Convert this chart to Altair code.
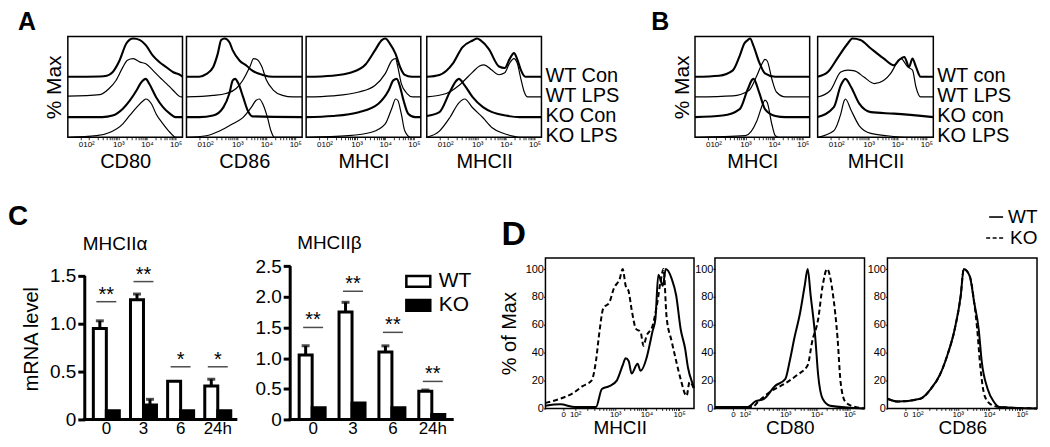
import math
import altair as alt
import pandas as pd

FONT = "Liberation Sans"

# ---------------- Panel A / B : stacked histograms ----------------
ROWS_A = ["WT Con", "WT LPS", "KO Con", "KO LPS"]
ROWS_B = ["WT con", "WT LPS", "KO con", "KO LPS"]
TICK_LABELS = ["0", "10²", "10³", "10⁴", "10⁵"]

# (x position in % of axis, height in % of max)
A_CD80 = {
    "WT Con": ([0, 28, 34, 39, 45, 51, 54, 57, 63, 68, 74, 80, 86, 92, 99, 100],
               [0, 1, 3, 12, 42, 87, 97, 100, 96, 83, 56, 38, 25, 12, 3, 0]),
    "WT LPS": ([0, 28, 36, 42, 48, 52, 57, 63, 68, 74, 80, 86, 92, 99, 100],
               [2, 6, 22, 43, 78, 96, 100, 91, 87, 70, 52, 35, 17, 0, 0]),
    "KO Con": ([0, 30, 39, 48, 54, 60, 64, 68, 71, 77, 83, 89, 94, 100],
               [0, 0, 4, 22, 43, 70, 91, 100, 87, 52, 26, 9, 0, 0]),
    "KO LPS": ([0, 25, 37, 48, 54, 60, 66, 68, 73, 77, 83, 89, 94, 100],
               [0, 4, 13, 35, 57, 78, 96, 100, 87, 61, 35, 13, 0, 0]),
}
A_CD86 = {
    "WT Con": ([0, 11, 17, 23, 27, 30, 33, 37, 40, 46, 52, 57, 66, 75, 100],
               [0, 0, 7, 25, 60, 96, 100, 91, 69, 42, 29, 16, 5, 0, 0]),
    "WT LPS": ([0, 23, 34, 43, 49, 55, 58, 61, 65, 69, 75, 83, 92, 100],
               [0, 4, 9, 22, 45, 80, 100, 98, 80, 45, 18, 4, 0, 0]),
    "KO Con": ([0, 11, 23, 32, 37, 40, 42, 45, 49, 53, 57, 100],
               [0, 0, 4, 26, 61, 96, 100, 87, 52, 17, 2, 0]),
    "KO LPS": ([0, 17, 29, 40, 49, 56, 60, 63, 66, 70, 73, 76, 100],
               [0, 4, 17, 35, 52, 78, 96, 100, 87, 52, 17, 0, 0]),
}
A_MHCI = {
    "WT Con": ([0, 23, 40, 52, 60, 66, 69, 73, 78, 82, 86, 92, 100],
               [0, 3, 12, 33, 69, 96, 100, 87, 60, 25, 5, 0, 0]),
    "WT LPS": ([0, 23, 46, 60, 69, 75, 78, 80, 83, 88, 93, 100],
               [0, 3, 13, 30, 61, 96, 100, 78, 35, 9, 0, 0]),
    "KO Con": ([0, 23, 46, 63, 72, 76, 79, 82, 85, 89, 95, 100],
               [0, 3, 13, 35, 70, 96, 100, 78, 43, 9, 0, 0]),
    "KO LPS": ([0, 37, 57, 69, 75, 78, 80, 83, 86, 91, 100],
               [0, 4, 13, 35, 78, 100, 96, 61, 17, 0, 0]),
}
A_MHCII = {
    "WT Con": ([0, 11, 23, 31, 40, 44, 47, 54, 63, 68, 72, 76, 79, 82, 86, 100],
               [0, 5, 36, 77, 95, 100, 95, 73, 27, 23, 45, 62, 45, 18, 0, 0]),
    "WT LPS": ([0, 17, 28, 40, 46, 50, 56, 63, 68, 72, 76, 79, 82, 85, 88, 100],
               [0, 9, 30, 65, 81, 84, 72, 58, 63, 87, 100, 87, 48, 13, 0, 0]),
    "KO Con": ([0, 11, 20, 26, 28, 33, 40, 49, 57, 69, 81, 100],
               [3, 13, 65, 96, 100, 83, 52, 26, 13, 4, 0, 0]),
    "KO LPS": ([0, 11, 20, 28, 33, 40, 49, 57, 66, 75, 81, 100],
               [0, 16, 51, 90, 100, 77, 51, 25, 11, 3, 0, 0]),
}
B_MHCI = {
    "WT con": ([0, 21, 33, 39, 43, 46, 48, 51, 56, 61, 70, 100],
               [0, 3, 17, 55, 87, 96, 100, 81, 38, 9, 0, 0]),
    "WT LPS": ([0, 33, 47, 54, 59, 61, 63, 67, 71, 79, 100],
               [0, 3, 17, 56, 90, 98, 94, 47, 13, 0, 0]),
    "KO con": ([0, 24, 39, 46, 50, 51, 56, 61, 70, 79, 100],
               [0, 4, 21, 73, 98, 100, 64, 21, 3, 0, 0]),
    "KO LPS": ([0, 44, 54, 59, 61, 63, 67, 70, 73, 100],
               [0, 4, 43, 86, 97, 91, 34, 4, 0, 0]),
}
B_MHCII = {
    "WT con": ([0, 9, 17, 26, 30, 37, 46, 57, 66, 70, 75, 79, 82, 85, 89, 100],
               [0, 13, 48, 87, 100, 96, 74, 48, 30, 43, 52, 26, 48, 26, 0, 0]),
    "WT LPS": ([0, 11, 20, 26, 32, 40, 49, 57, 63, 69, 72, 78, 82, 85, 89, 100],
               [0, 17, 65, 70, 68, 52, 35, 43, 61, 91, 100, 78, 70, 26, 0, 0]),
    "KO con": ([0, 14, 20, 24, 29, 36, 46, 66, 100],
               [0, 26, 83, 100, 78, 35, 13, 9, 0]),
    "KO LPS": ([0, 14, 20, 23, 24, 29, 36, 46, 60, 80, 100],
               [0, 17, 61, 96, 100, 70, 30, 10, 4, 0, 0]),
}

# ---------------- Panel C : qPCR bars ----------------
CATS = ["0", "3", "6", "24h"]
GENO = ["WT", "KO"]
CA_WT = [0.95, 1.25, 0.40, 0.35]
CA_WT_ERR = [0.08, 0.06, 0.0, 0.07]
CA_KO = [0.09, 0.15, 0.09, 0.09]
CA_KO_ERR = [0.0, 0.06, 0.0, 0.0]
CA_SIG = [1.23, 1.44, 0.55, 0.55]
CA_STARS = ["**", "**", "*", "*"]

CB_WT = [1.05, 1.75, 1.10, 0.46]
CB_WT_ERR = [0.15, 0.16, 0.10, 0.02]
CB_KO = [0.19, 0.27, 0.19, 0.08]
CB_KO_ERR = [0.0, 0.0, 0.0, 0.0]
CB_SIG = [1.50, 2.09, 1.42, 0.62]
CB_STARS = ["**", "**", "**", "**"]

# ---------------- Panel D : overlay histograms ----------------
D_LEGEND = ["WT", "KO"]
D_MHCII_WT = ([0, 10, 20, 34, 38, 43, 48, 52, 54, 56, 58, 62, 64, 68, 70, 72, 74, 76, 79, 81, 85, 88, 91, 94, 96, 99, 100],
              [2, 3, 1, 1, 14, 16, 20, 31, 36, 34, 25, 32, 27, 36, 45, 55, 64, 96, 88, 100, 93, 81, 57, 43, 29, 18, 15])
D_MHCII_KO = ([0, 10, 18.5, 25, 31, 34, 36, 39, 43, 46, 50, 52, 54, 56, 58, 61, 64, 66, 68, 72, 75, 77.5, 79.5, 81.5, 85, 88, 91, 95, 97, 100],
              [4, 7, 11, 16, 20, 34, 52, 72, 76, 86, 93, 100, 88, 84, 71, 57, 55, 45, 52, 59, 74, 91, 100, 66, 48, 34, 21, 9, 19, 14])
D_CD80_WT = ([0, 22, 27, 33, 40, 47, 50, 53, 57, 60, 62, 64, 67, 69, 72, 77, 100],
             [1, 1, 5, 7, 16, 21, 34, 50, 69, 88, 100, 81, 52, 24, 7, 2, 0])
D_CD80_KO = ([0, 25, 29, 37, 47, 55, 62, 65, 69, 72, 75, 79, 82, 84, 87, 91, 100],
             [1, 1, 5, 12, 18, 24, 31, 48, 64, 88, 100, 81, 50, 19, 5, 2, 0])
D_CD86_WT = ([0, 7, 22, 29, 35, 40, 45, 49, 51, 55, 58, 61, 63, 67, 71, 75, 100],
             [7, 5, 7, 14, 24, 38, 57, 81, 100, 95, 76, 57, 34, 14, 5, 1, 0])
D_CD86_KO = ([0, 7, 22, 29, 35, 40, 45, 49, 51, 55, 58, 60, 62, 65, 69, 75, 100],
             [7, 5, 7, 14, 24, 38, 57, 81, 100, 95, 76, 57, 31, 9, 3, 1, 0])

# ---------------- layout constants ----------------
OFFSETS = [0.6, 0.4, 0.2, 0.0]
AMP = 0.38
MAJ_AB = [11, 18, 44, 69, 94]
MAJ_D = [12, 20, 47, 68, 90]
H_TOP = 101
H_C = 162
H_D = 151
BOX = alt.ViewBackground(stroke="black", strokeWidth=1.5)
ONE = pd.DataFrame({"t": ["x"]})


def hist_xaxis(title, majors, label_fs, title_fs, title_pad, label_pad=1, tick=2.5):
    minor = []
    for a, b in zip(majors[1:-1], majors[2:]):
        for k in range(2, 10):
            minor.append(round(a + (b - a) * math.log10(k), 2))
    vals = sorted(majors + minor)
    expr = " : ".join(f"datum.value == {v} ? '{l}'" for v, l in zip(majors, TICK_LABELS)) + " : ''"
    return alt.Axis(values=vals, labelExpr=expr, labelFontSize=label_fs, labelOverlap=False,
                    labelFlush=False, labelPadding=label_pad, domain=False, grid=False, ticks=True,
                    tickColor="black", tickWidth=0.8, tickSize=tick, title=title,
                    titleFontSize=title_fs, titleFontWeight="normal", titlePadding=title_pad)


def letter(t, dx, dy, fs):
    return alt.Chart(pd.DataFrame({"t": [t]})).mark_text(
        align="left", baseline="alphabetic", fontSize=fs, fontWeight="bold", color="black"
    ).encode(x=alt.value(dx), y=alt.value(dy), text="t:N")


def marker(y):
    # invisible anchor that fixes the extent of a row
    return alt.Chart(ONE).mark_rule(opacity=0, strokeWidth=0.01).encode(
        x=alt.value(0), x2=alt.value(1), y=alt.value(y))


def spacer(w, h, extras=()):
    base = alt.Chart(ONE).mark_text(text="", opacity=0).encode(x=alt.value(1), y=alt.value(1))
    if extras:
        return alt.layer(base, *extras).properties(width=w, height=h)
    return base.properties(width=w, height=h)


def hist_chart(curves, rows, width, title, ytitle=None, extra=None):
    recs = []
    for i, r in enumerate(rows):
        xs, ps = curves[r]
        for x, p in zip(xs, ps):
            recs.append({"curve": r, "x": x, "y": OFFSETS[i] + AMP * p / 100.0,
                         "w": 2.1 if i % 2 == 0 else 1.2})
    df = pd.DataFrame(recs)
    if ytitle:
        yaxis = alt.Axis(title=ytitle, labels=False, ticks=False, domain=False, grid=False,
                         titleFontSize=21, titleFontWeight="normal", titlePadding=3)
    else:
        yaxis = None
    line = alt.Chart(df).mark_line(interpolate="monotone", color="black").encode(
        x=alt.X("x:Q", scale=alt.Scale(domain=[0, 100], nice=False, zero=False),
                axis=hist_xaxis(title, MAJ_AB, 8, 20, 3)),
        y=alt.Y("y:Q", scale=alt.Scale(domain=[0, 1], nice=False), axis=yaxis),
        detail="curve:N",
        strokeWidth=alt.StrokeWidth("w:Q", scale=None),
    )
    layers = [line]
    if extra is not None:
        layers.append(extra)
    return alt.layer(*layers).properties(width=width, height=H_TOP, view=BOX)


def label_panel(rows, width):
    df = pd.DataFrame({"label": rows, "pos": OFFSETS})
    return alt.Chart(df).mark_text(align="left", baseline="middle", fontSize=20, dx=4, dy=-1,
                                   color="black").encode(
        x=alt.value(0),
        y=alt.Y("pos:Q", scale=alt.Scale(domain=[0, 1], nice=False), axis=None),
        text="label:N",
    ).properties(width=width, height=H_TOP)


def bar_chart(title, wt, wt_err, ko, ko_err, sig, stars, width, y_top, ticks, px_per_unit,
              title_dx, ytitle=None, legend=None):
    recs = []
    for i, c in enumerate(CATS):
        recs.append({"cat": c, "geno": "WT", "val": wt[i], "err": wt_err[i], "top": wt[i] + wt_err[i]})
        recs.append({"cat": c, "geno": "KO", "val": ko[i], "err": ko_err[i], "top": ko[i] + ko_err[i]})
    df = pd.DataFrame(recs)
    sdf = pd.DataFrame({"cat": CATS, "line": sig, "txt": stars})
    ymax = H_C / px_per_unit
    x = alt.X("cat:N", sort=CATS, scale=alt.Scale(paddingInner=0.3, paddingOuter=0.15),
              axis=alt.Axis(title=None, labelAngle=0, labelFontSize=17, ticks=False, domain=False,
                            labelPadding=1, labelColor="black"))
    xo = alt.XOffset("geno:N", sort=GENO, scale=alt.Scale(domain=GENO))
    yscale = alt.Scale(domain=[0, ymax], nice=False)
    yaxis = alt.Axis(values=ticks, labelExpr="datum.value == 0 ? '0' : format(datum.value, '.1f')",
                     labelOverlap=False, labelFlush=False, labelBound=False,
                     domain=False, tickSize=7, tickWidth=3, tickColor="black", labelFontSize=19,
                     labelPadding=2, offset=3, grid=False, title=ytitle, titleFontSize=20,
                     titleFontWeight="normal", titlePadding=8)

    def yenc(field):
        return alt.Y(field, type="quantitative", scale=yscale, axis=yaxis, title=ytitle)

    bars = alt.Chart(df).mark_bar(stroke="black", strokeWidth=3).encode(
        x=x, xOffset=xo, y=yenc("val"),
        fill=alt.Fill("geno:N", scale=alt.Scale(domain=GENO, range=["white", "black"]), legend=legend),
    )
    errs = alt.Chart(df).transform_filter("datum.err > 0").mark_rule(strokeWidth=3, color="black").encode(
        x=x, xOffset=xo, y=yenc("val"), y2="top:Q")
    caps = alt.Chart(df).transform_filter("datum.err > 0").mark_tick(size=8, thickness=3, color="black").encode(
        x=x, xOffset=xo, y=yenc("top"))
    sline = alt.Chart(sdf).mark_tick(size=20, thickness=1.5, color="black").encode(
        x=x, y=yenc("line"))
    stext = alt.Chart(sdf).mark_text(fontSize=20, baseline="alphabetic", dy=-1, color="black").encode(
        x=x, y=yenc("line"), text="txt:N")
    yline = alt.Chart(ONE).mark_rule(strokeWidth=3, color="black").encode(
        x=alt.value(-3), y=alt.datum(0, axis=yaxis, scale=yscale, title=ytitle), y2=alt.datum(y_top))
    xline = alt.Chart(ONE).mark_rule(strokeWidth=3, color="black").encode(
        x=alt.value(-4.5), x2=alt.value(width + 1), y=alt.datum(0, axis=yaxis, scale=yscale, title=ytitle))
    return alt.layer(bars, errs, caps, sline, stext, yline, xline).properties(
        width=width, height=H_C,
        title=alt.TitleParams(title, anchor="start", frame="group", fontSize=19, fontWeight="normal",
                              offset=4, dx=title_dx, color="black"))


def d_chart(wt, ko, width, title, ytitle=None, extra=None):
    recs = [{"geno": "WT", "x": x, "pct": p} for x, p in zip(*wt)]
    recs += [{"geno": "KO", "x": x, "pct": p} for x, p in zip(*ko)]
    df = pd.DataFrame(recs)
    x = alt.X("x:Q", scale=alt.Scale(domain=[0, 100], nice=False, zero=False),
              axis=hist_xaxis(title, MAJ_D, 8, 19, 0, label_pad=0, tick=2))
    y = alt.Y("pct:Q", scale=alt.Scale(domain=[0, 108], nice=False),
              axis=alt.Axis(values=[0, 20, 40, 60, 80, 100], labelFontSize=11, tickSize=2,
                            tickColor="black", labelPadding=0, domain=False, grid=False,
                            labelOverlap=False, title=ytitle, titleFontSize=20,
                            titleFontWeight="normal", titlePadding=6))
    solid = alt.Chart(df).transform_filter("datum.geno == 'WT'").mark_line(
        interpolate="monotone", color="black", strokeWidth=2).encode(x=x, y=y)
    dashed = alt.Chart(df).transform_filter("datum.geno == 'KO'").mark_line(
        interpolate="monotone", color="black", strokeWidth=2, strokeDash=[5, 3]).encode(x=x, y=y)
    layers = [solid, dashed]
    if extra is not None:
        layers += extra
    return alt.layer(*layers).properties(width=width, height=H_D, view=BOX)


# ---- top row ----
A1 = hist_chart(A_CD80, ROWS_A, 115, "CD80", ytitle="% Max")
A2 = hist_chart(A_CD86, ROWS_A, 116, "CD86")
A3 = hist_chart(A_MHCI, ROWS_A, 115, "MHCI")
A4 = hist_chart(A_MHCII, ROWS_A, 115, "MHCII")
LA = label_panel(ROWS_A, 154)
B1 = hist_chart(B_MHCI, ROWS_B, 115, "MHCI", ytitle="% Max", extra=letter("B", -44, -7, 25))
B2 = hist_chart(B_MHCII, ROWS_B, 116, "MHCII")
LB = label_panel(ROWS_B, 60)

top_row = alt.hconcat(
    spacer(60, 50, [marker(-28), marker(150), letter("A", 10, -7, 25)]),
    A1, spacer(4, 50), A2, spacer(4, 50), A3, spacer(6, 50), A4, LA, B1, spacer(8, 50), B2, LB,
    spacing=0, bounds="flush",
)

# ---- bottom row ----
C1 = bar_chart("MHCIIα", CA_WT, CA_WT_ERR, CA_KO, CA_KO_ERR, CA_SIG, CA_STARS, 149, 1.5,
               [0, 0.5, 1.0, 1.5], 96.0, -5, ytitle="mRNA  level", legend=None)
C2 = bar_chart("MHCIIβ", CB_WT, CB_WT_ERR, CB_KO, CB_KO_ERR, CB_SIG, CB_STARS, 160, 2.5,
               [0, 0.5, 1.0, 1.5, 2.0, 2.5], 61.5, 4, ytitle=None,
               legend=alt.Legend(orient="none", legendX=112, legendY=10, title=None,
                                 symbolType="M-1,-0.45H1V0.45H-1Z", symbolSize=576,
                                 symbolStrokeColor="black", symbolStrokeWidth=2.5,
                                 labelFontSize=21, labelOffset=7, rowPadding=-5,
                                 labelColor="black"))

leg_wt_line = alt.Chart(ONE).mark_rule(strokeWidth=1.6, color="black").encode(
    x=alt.value(102), x2=alt.value(116), y=alt.value(-41))
leg_ko_line = alt.Chart(ONE).mark_rule(strokeWidth=1.6, color="black", strokeDash=[4, 2.5]).encode(
    x=alt.value(99), x2=alt.value(118), y=alt.value(-20))
leg_wt_txt = alt.Chart(pd.DataFrame({"t": [D_LEGEND[0]]})).mark_text(
    align="left", baseline="middle", fontSize=19, color="black").encode(
    x=alt.value(121), y=alt.value(-41), text="t:N")
leg_ko_txt = alt.Chart(pd.DataFrame({"t": [D_LEGEND[1]]})).mark_text(
    align="left", baseline="middle", fontSize=19, color="black").encode(
    x=alt.value(123), y=alt.value(-20), text="t:N")

D1 = d_chart(D_MHCII_WT, D_MHCII_KO, 149, "MHCII", ytitle="% of Max")
D2 = d_chart(D_CD80_WT, D_CD80_KO, 150, "CD80")
D3 = d_chart(D_CD86_WT, D_CD86_KO, 150, "CD86",
             extra=[leg_wt_line, leg_ko_line, leg_wt_txt, leg_ko_txt])

bottom_row = alt.hconcat(
    spacer(80, 10, [marker(-64), letter("C", 0, -33, 28)]),
    C1, spacer(57, 10), C2,
    spacer(93, 10, [letter("D", 49, -13, 34)]),
    D1, spacer(21, 10), D2, spacer(23, 10), D3,
    spacing=0, bounds="flush",
).resolve_scale(fill="independent")

chart = alt.vconcat(top_row, bottom_row, spacing=8).properties(padding=0).configure(
    font=FONT
).configure_view(stroke=None).configure_axis(
    labelFont=FONT, titleFont=FONT, labelColor="black", titleColor="black", tickColor="black"
).configure_text(font=FONT).configure_title(font=FONT, color="black")

chart.save("out.html", embed_options={"renderer": "svg", "actions": False})
